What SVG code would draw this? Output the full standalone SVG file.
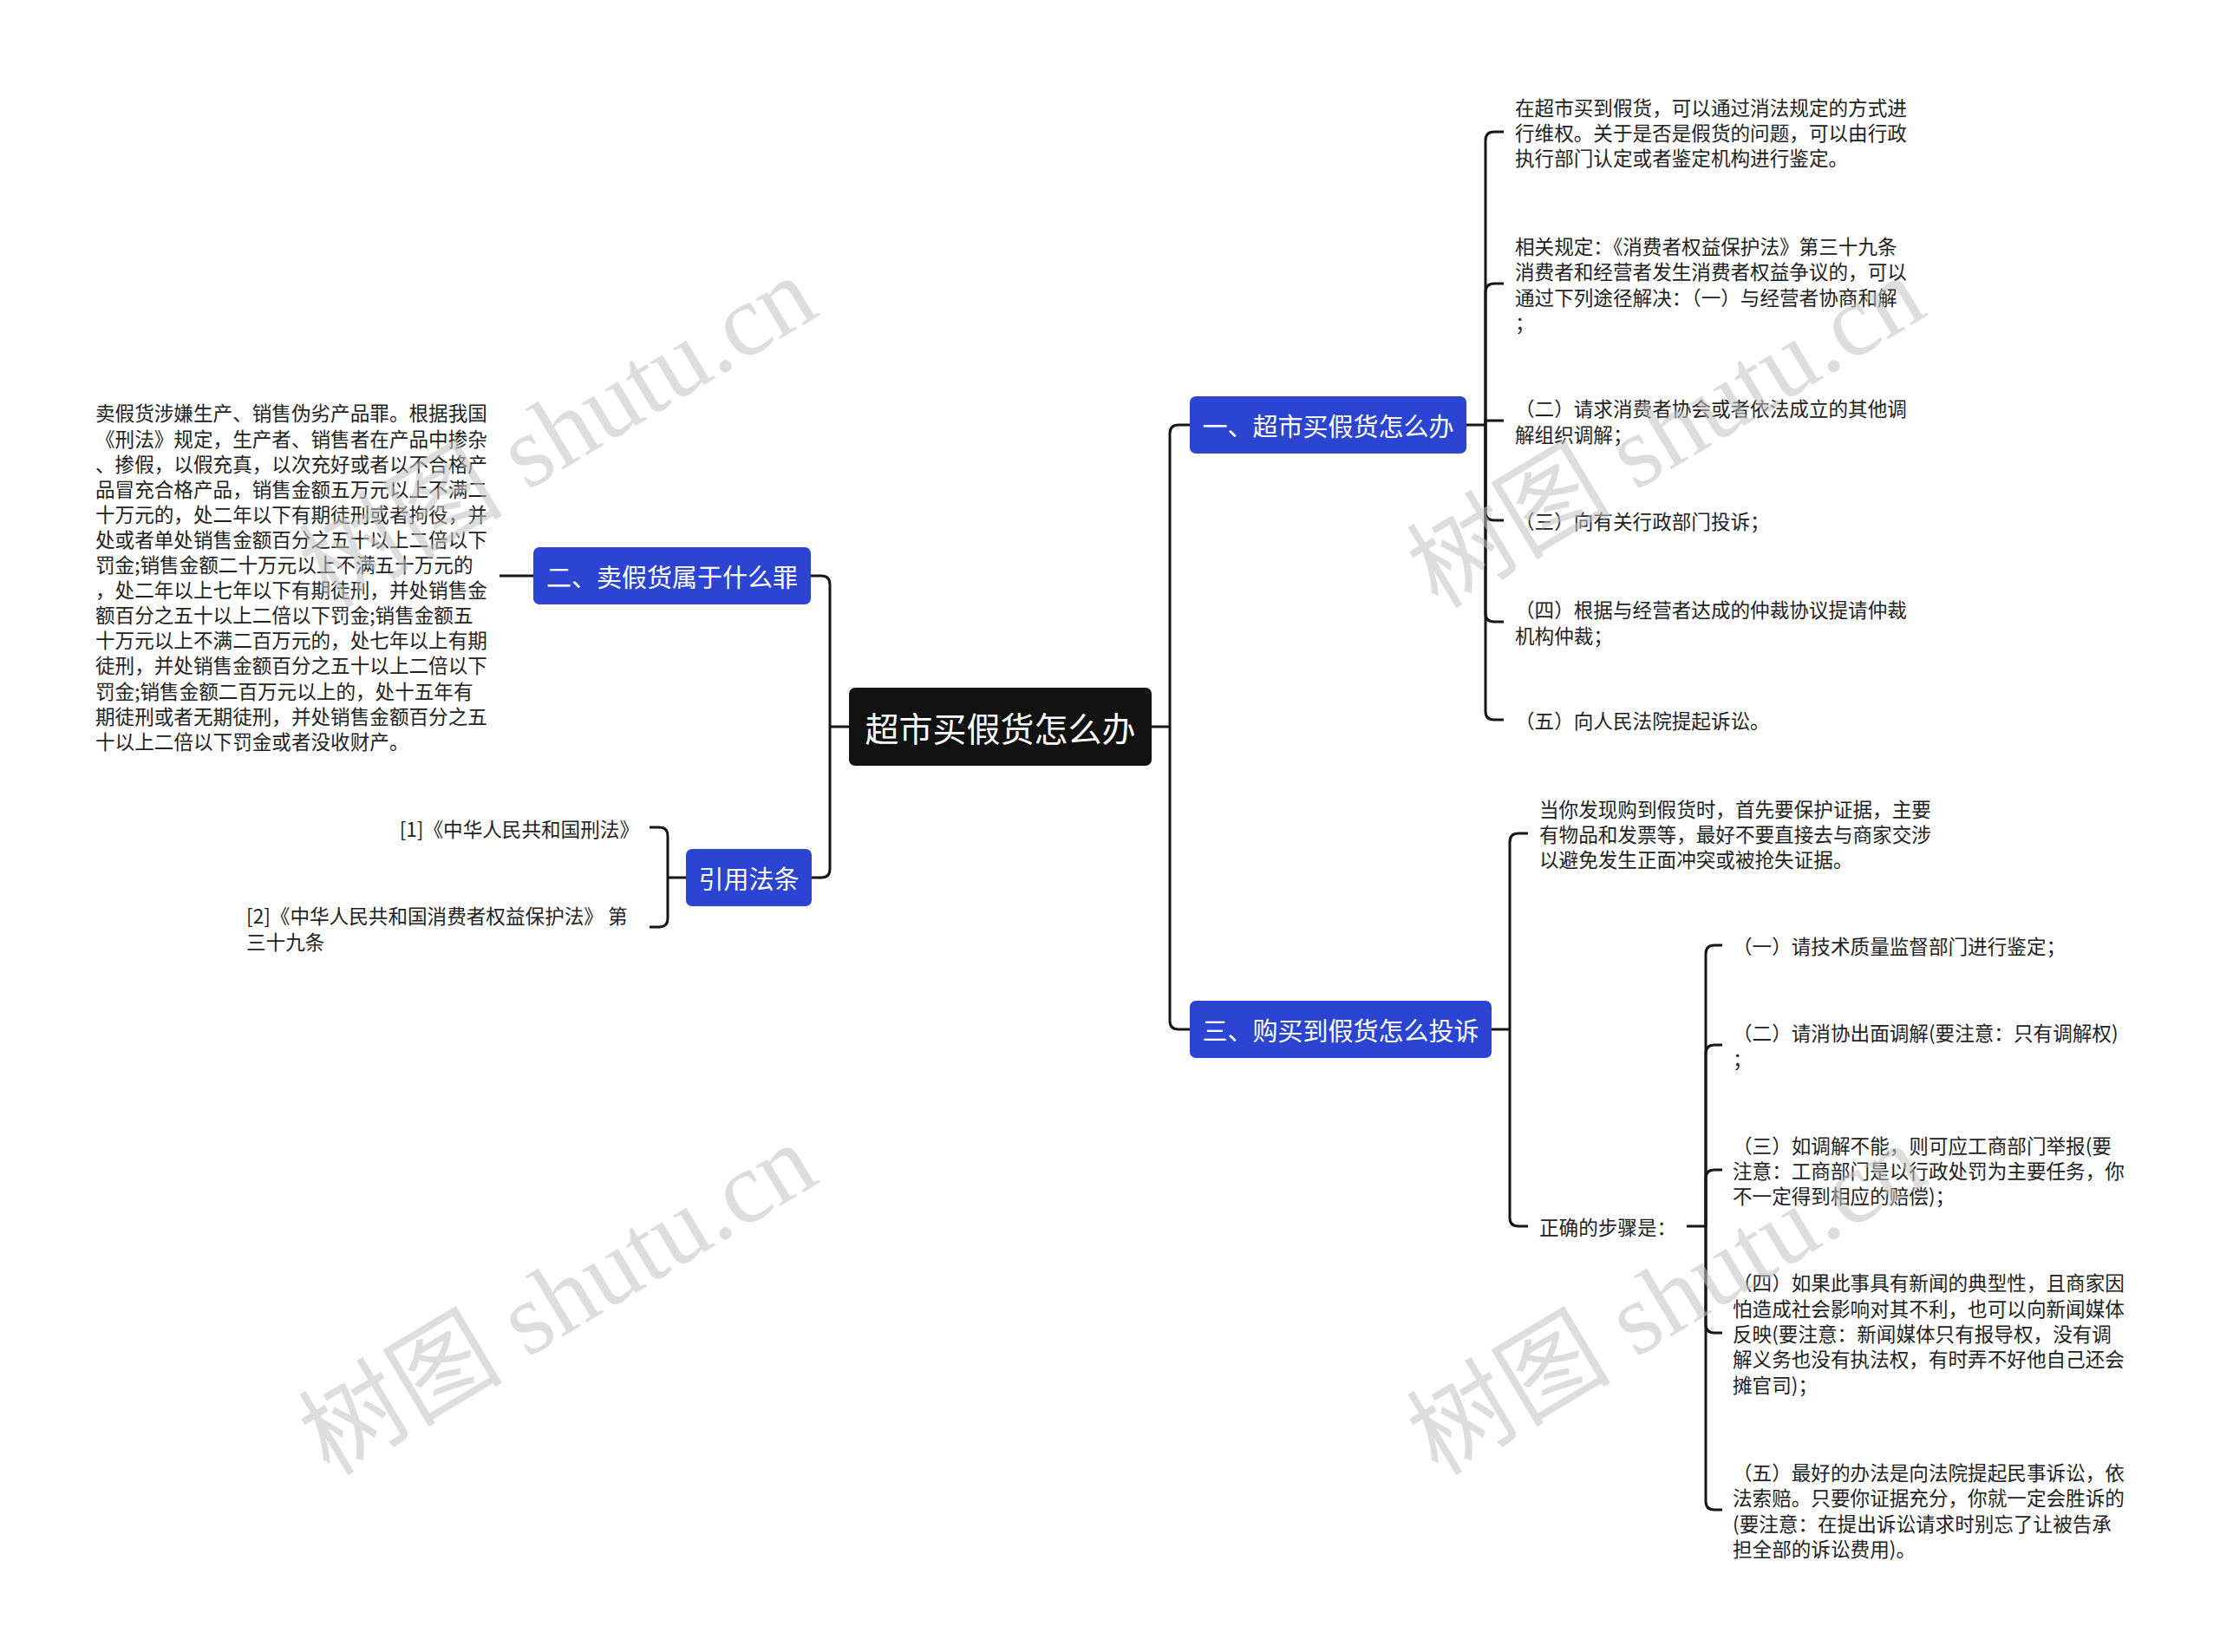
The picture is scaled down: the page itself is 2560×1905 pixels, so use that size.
<svg xmlns="http://www.w3.org/2000/svg" width="2560" height="1905" viewBox="0 0 2560 1905">
<style>
.bg{fill:#ffffff}
.ln{fill:none;stroke:#161616;stroke-width:3}
.t{font-family:"Noto Sans CJK SC","Noto Sans",sans-serif;font-size:22.6px;fill:#222222;dominant-baseline:central}
.bt{font-family:"Noto Sans CJK SC","Noto Sans",sans-serif;font-size:29px;fill:#ffffff;dominant-baseline:central;text-anchor:middle}
.rt{font-family:"Noto Sans CJK SC","Noto Sans",sans-serif;font-size:39px;fill:#ffffff;dominant-baseline:central;text-anchor:middle}
.blue{fill:#2b44d1}
.root{fill:#121212}
.wm{font-family:"Liberation Serif","Noto Sans CJK SC",serif;font-size:118px;fill:#c2c2c2;opacity:0.55}
</style>
<rect class="bg" x="0" y="0" width="2560" height="1905"/>

<g id="connectors">
<path class="ln" d="M979,838 H957"/>
<path class="ln" d="M935,664 H947 Q957,664 957,674 V838"/>
<path class="ln" d="M936,1012 H947 Q957,1012 957,1002 V838"/>
<path class="ln" d="M615,664 H576"/>
<path class="ln" d="M791,1012 H770"/>
<path class="ln" d="M770,1012 V964 Q770,954 760,954 H749"/>
<path class="ln" d="M770,1012 V1059 Q770,1069 760,1069 H749"/>

<path class="ln" d="M1328,838 H1349"/>
<path class="ln" d="M1349,838 V500 Q1349,490 1359,490 H1372"/>
<path class="ln" d="M1349,838 V1177 Q1349,1187 1359,1187 H1372"/>

<path class="ln" d="M1691,490 H1713"/>
<path class="ln" d="M1713,490 V162 Q1713,152 1723,152 H1734"/>
<path class="ln" d="M1713,490 V337 Q1713,327 1723,327 H1734"/>
<path class="ln" d="M1713,490 V485 H1734"/>
<path class="ln" d="M1713,490 V590 Q1713,600 1723,600 H1734"/>
<path class="ln" d="M1713,490 V707 Q1713,717 1723,717 H1734"/>
<path class="ln" d="M1713,490 V820 Q1713,830 1723,830 H1734"/>

<path class="ln" d="M1720,1187 H1741"/>
<path class="ln" d="M1741,1187 V971 Q1741,961 1751,961 H1762"/>
<path class="ln" d="M1741,1187 V1404 Q1741,1414 1751,1414 H1762"/>
<path class="ln" d="M1945,1414 H1967"/>
<path class="ln" d="M1967,1414 V1100 Q1967,1090 1977,1090 H1986"/>
<path class="ln" d="M1967,1414 V1215 Q1967,1205 1977,1205 H1986"/>
<path class="ln" d="M1967,1414 V1359 Q1967,1349 1977,1349 H1986"/>
<path class="ln" d="M1967,1414 V1527 Q1967,1537 1977,1537 H1986"/>
<path class="ln" d="M1967,1414 V1731 Q1967,1741 1977,1741 H1986"/>
</g>

<g id="root">
<rect class="root" x="979" y="793" width="349" height="90" rx="7"/>
<text class="rt" x="1153.5" y="838">超市买假货怎么办</text>
</g>

<g id="node-er">
<rect class="blue" x="615" y="631" width="320" height="66" rx="7"/>
<text class="bt" x="775" y="664">二、卖假货属于什么罪</text>
</g>

<g id="node-er-text">
<text class="t" x="110" y="475.4">
<tspan x="110" y="475.4">卖假货涉嫌生产、销售伪劣产品罪。根据我国</tspan>
<tspan x="110" y="504.5">《刑法》规定，生产者、销售者在产品中掺杂</tspan>
<tspan x="110" y="533.6">、掺假，以假充真，以次充好或者以不合格产</tspan>
<tspan x="110" y="562.7">品冒充合格产品，销售金额五万元以上不满二</tspan>
<tspan x="110" y="591.8">十万元的，处二年以下有期徒刑或者拘役，并</tspan>
<tspan x="110" y="620.9">处或者单处销售金额百分之五十以上二倍以下</tspan>
<tspan x="110" y="650.0">罚金;销售金额二十万元以上不满五十万元的</tspan>
<tspan x="110" y="679.1">，处二年以上七年以下有期徒刑，并处销售金</tspan>
<tspan x="110" y="708.2">额百分之五十以上二倍以下罚金;销售金额五</tspan>
<tspan x="110" y="737.3">十万元以上不满二百万元的，处七年以上有期</tspan>
<tspan x="110" y="766.4">徒刑，并处销售金额百分之五十以上二倍以下</tspan>
<tspan x="110" y="795.5">罚金;销售金额二百万元以上的，处十五年有</tspan>
<tspan x="110" y="824.6">期徒刑或者无期徒刑，并处销售金额百分之五</tspan>
<tspan x="110" y="853.7">十以上二倍以下罚金或者没收财产。</tspan>
</text>
</g>

<g id="node-yinyong">
<rect class="blue" x="791" y="979" width="145" height="66" rx="7"/>
<text class="bt" x="863.5" y="1012">引用法条</text>
</g>

<g id="node-law1">
<text class="t" x="737" y="955" text-anchor="end">[1]《中华人民共和国刑法》</text>
</g>

<g id="node-law2">
<text class="t" x="284" y="1055.3">
<tspan x="284" y="1055.3">[2]《中华人民共和国消费者权益保护法》 第</tspan>
<tspan x="284" y="1084.7">三十九条</tspan>
</text>
</g>

<g id="node-yi">
<rect class="blue" x="1372" y="457" width="319" height="66" rx="7"/>
<text class="bt" x="1531.5" y="490">一、超市买假货怎么办</text>
</g>

<g id="node-yi-1">
<text class="t" x="1747" y="122.6">
<tspan x="1747" y="122.6">在超市买到假货，可以通过消法规定的方式进</tspan>
<tspan x="1747" y="152">行维权。关于是否是假货的问题，可以由行政</tspan>
<tspan x="1747" y="181.4">执行部门认定或者鉴定机构进行鉴定。</tspan>
</text>
</g>

<g id="node-yi-2">
<text class="t" x="1747" y="282.9">
<tspan x="1747" y="282.9">相关规定：《消费者权益保护法》第三十九条</tspan>
<tspan x="1747" y="312.3">消费者和经营者发生消费者权益争议的，可以</tspan>
<tspan x="1747" y="341.7">通过下列途径解决：（一）与经营者协商和解</tspan>
<tspan x="1747" y="371.1">；</tspan>
</text>
</g>

<g id="node-yi-3">
<text class="t" x="1747" y="470.3">
<tspan x="1747" y="470.3">（二）请求消费者协会或者依法成立的其他调</tspan>
<tspan x="1747" y="499.7">解组织调解；</tspan>
</text>
</g>

<g id="node-yi-4">
<text class="t" x="1747" y="600">（三）向有关行政部门投诉；</text>
</g>

<g id="node-yi-5">
<text class="t" x="1747" y="702.3">
<tspan x="1747" y="702.3">（四）根据与经营者达成的仲裁协议提请仲裁</tspan>
<tspan x="1747" y="731.7">机构仲裁；</tspan>
</text>
</g>

<g id="node-yi-6">
<text class="t" x="1747" y="830">（五）向人民法院提起诉讼。</text>
</g>

<g id="node-san">
<rect class="blue" x="1372" y="1154" width="348" height="66" rx="7"/>
<text class="bt" x="1546" y="1187">三、购买到假货怎么投诉</text>
</g>

<g id="node-san-a">
<text class="t" x="1775" y="931.6">
<tspan x="1775" y="931.6">当你发现购到假货时，首先要保护证据，主要</tspan>
<tspan x="1775" y="961">有物品和发票等，最好不要直接去与商家交涉</tspan>
<tspan x="1775" y="990.4">以避免发生正面冲突或被抢失证据。</tspan>
</text>
</g>

<g id="node-san-b">
<text class="t" x="1775" y="1414">正确的步骤是：</text>
</g>

<g id="node-step-1">
<text class="t" x="1998" y="1090">（一）请技术质量监督部门进行鉴定；</text>
</g>

<g id="node-step-2">
<text class="t" x="1998" y="1190.3">
<tspan x="1998" y="1190.3">（二）请消协出面调解(要注意：只有调解权)</tspan>
<tspan x="1998" y="1219.7">；</tspan>
</text>
</g>

<g id="node-step-3">
<text class="t" x="1998" y="1319.6">
<tspan x="1998" y="1319.6">（三）如调解不能，则可应工商部门举报(要</tspan>
<tspan x="1998" y="1349">注意：工商部门是以行政处罚为主要任务，你</tspan>
<tspan x="1998" y="1378.4">不一定得到相应的赔偿)；</tspan>
</text>
</g>

<g id="node-step-4">
<text class="t" x="1998" y="1478.2">
<tspan x="1998" y="1478.2">（四）如果此事具有新闻的典型性，且商家因</tspan>
<tspan x="1998" y="1507.6">怕造成社会影响对其不利，也可以向新闻媒体</tspan>
<tspan x="1998" y="1537">反映(要注意：新闻媒体只有报导权，没有调</tspan>
<tspan x="1998" y="1566.4">解义务也没有执法权，有时弄不好他自己还会</tspan>
<tspan x="1998" y="1595.8">摊官司)；</tspan>
</text>
</g>

<g id="node-step-5">
<text class="t" x="1998" y="1696.9">
<tspan x="1998" y="1696.9">（五）最好的办法是向法院提起民事诉讼，依</tspan>
<tspan x="1998" y="1726.3">法索赔。只要你证据充分，你就一定会胜诉的</tspan>
<tspan x="1998" y="1755.7">(要注意：在提出诉讼请求时别忘了让被告承</tspan>
<tspan x="1998" y="1785.1">担全部的诉讼费用)。</tspan>
</text>
</g>

<g id="watermarks">
<text class="wm" transform="translate(380,703) rotate(-31)">树图 shutu.cn</text>
<text class="wm" transform="translate(380,1703) rotate(-31)">树图 shutu.cn</text>
<text class="wm" transform="translate(1658,703) rotate(-31)">树图 shutu.cn</text>
<text class="wm" transform="translate(1658,1703) rotate(-31)">树图 shutu.cn</text>
</g>
</svg>
